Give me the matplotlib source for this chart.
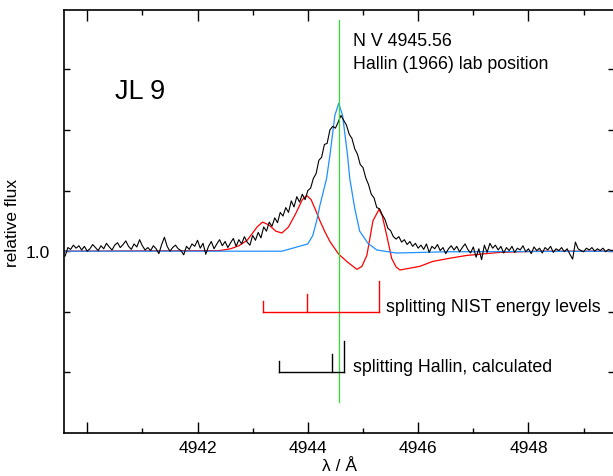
import matplotlib
matplotlib.use("Agg")
import matplotlib.pyplot as plt
import numpy as np

plt.rcParams['font.family'] = ['Liberation Sans', 'DejaVu Sans']

# observed spectrum, sampled every 0.05 A from 4939.60
wave_start = 4939.60
wave_step = 0.05
flux_obs = [
    0.992, 1.006, 1.003, 1.010, 1.005, 1.009, 1.002, 1.008, 1.000, 1.004,
    1.011, 1.006, 1.001, 1.009, 1.004, 1.013, 1.007, 1.002, 1.010, 1.014,
    1.006, 1.011, 1.017, 1.008, 1.003, 1.012, 1.007, 1.019, 1.009, 1.002,
    1.006, 1.001, 1.009, 1.004, 0.996, 1.011, 1.023, 1.008, 1.000, 1.006,
    1.010, 1.004, 1.001, 0.994, 1.008, 1.003, 1.012, 1.008, 1.018, 1.005,
    1.013, 0.995, 1.008, 1.016, 1.004, 1.012, 1.019, 1.009, 1.016, 1.006,
    1.014, 1.021, 1.008, 1.019, 1.012, 1.024, 1.015, 1.010, 1.026, 1.018,
    1.031, 1.022, 1.040, 1.033, 1.048, 1.041, 1.055, 1.047, 1.064, 1.058,
    1.072, 1.064, 1.083, 1.073, 1.090, 1.081, 1.094, 1.085, 1.100, 1.104,
    1.120, 1.128, 1.150, 1.155, 1.176, 1.178, 1.200, 1.206, 1.203, 1.213,
    1.224, 1.216, 1.208, 1.193, 1.186, 1.169, 1.160, 1.143, 1.138, 1.121,
    1.110, 1.094, 1.088, 1.072, 1.070, 1.060, 1.052, 1.038, 1.034, 1.024,
    1.020, 1.024, 1.015, 1.019, 1.011, 1.016, 1.008, 1.013, 1.005, 1.010,
    1.003, 1.012, 0.998, 1.008, 1.004, 1.011, 1.001, 1.006, 0.996, 1.004,
    1.009, 1.002, 1.008, 0.999, 1.006, 1.012, 1.003, 0.997, 1.007, 0.990,
    1.004, 0.986, 1.010, 0.998, 1.013, 1.005, 1.010, 1.002, 1.008, 0.997,
    1.006, 1.001, 1.008, 0.998, 1.005, 1.002, 1.009, 0.999, 1.004, 0.996,
    1.007, 1.001, 1.005, 0.997, 1.006, 1.002, 1.008, 0.998, 1.004, 1.001,
    1.006, 0.999, 1.004, 0.995, 0.987, 1.015, 1.004, 1.001, 0.999, 1.005,
    1.002, 1.006, 1.000, 1.004, 1.001, 1.005, 0.999, 1.003, 1.001, 1.002,
]
wave_obs = wave_start + wave_step * np.arange(len(flux_obs))

# model with Hallin splitting (blue)
wave_hallin = [4939.57, 4943.53, 4944.00, 4944.09, 4944.16, 4944.22, 4944.34,
               4944.40, 4944.49, 4944.56, 4944.63, 4944.72, 4944.76, 4944.85,
               4944.94, 4945.09, 4945.25, 4945.60, 4946.50, 4949.60]
flux_hallin = [1.000, 1.000, 1.012, 1.026, 1.050, 1.076, 1.120,
               1.158, 1.224, 1.244, 1.224, 1.158, 1.120, 1.071,
               1.033, 1.013, 1.002, 0.997, 0.999, 1.000]

# model with NIST splitting (red)
wave_nist = [4939.57, 4942.40, 4942.60, 4942.75, 4942.90, 4943.00, 4943.08,
             4943.18, 4943.30, 4943.42, 4943.53, 4943.65, 4943.78, 4943.90,
             4943.98, 4944.06, 4944.14, 4944.22, 4944.31, 4944.40, 4944.56,
             4944.72, 4944.89, 4944.98, 4945.07, 4945.18, 4945.29, 4945.35,
             4945.43, 4945.52, 4945.60, 4945.67, 4945.85, 4946.03, 4946.26,
             4946.55, 4946.88, 4947.48, 4948.20, 4949.60]
flux_nist = [1.000, 1.001, 1.004, 1.009, 1.018, 1.030, 1.040,
             1.048, 1.043, 1.033, 1.030, 1.040, 1.062, 1.085,
             1.092, 1.085, 1.068, 1.050, 1.032, 1.016, 0.995,
             0.982, 0.970, 0.975, 0.993, 1.050, 1.069, 1.058,
             1.026, 0.988, 0.974, 0.969, 0.972, 0.975, 0.983,
             0.988, 0.993, 0.998, 1.000, 1.000]

lab_position = 4944.56
lab_line_range = [0.751, 1.381]

# splitting components: wavelengths and relative tick heights
nist_comp = [4943.18, 4943.98, 4945.29]
nist_height = [0.018, 0.030, 0.050]
nist_base = 0.90
hallin_comp = [4943.47, 4944.43, 4944.65]
hallin_height = [0.018, 0.030, 0.052]
hallin_base = 0.80

fig = plt.figure(figsize=(6.13, 4.77), dpi=100)
ax = fig.add_axes([64/613, 43/477, 550/613, 423/477])

ax.plot(wave_nist, flux_nist, color='red', lw=0.9)
ax.plot(wave_hallin, flux_hallin, color='#1E90FF', lw=0.9)
ax.plot(wave_obs, flux_obs, color='black', lw=0.8)
ax.plot([lab_position, lab_position], lab_line_range, color='#33dd33', lw=0.9)

# splitting brackets
ax.plot([nist_comp[0], nist_comp[-1]], [nist_base, nist_base], color='red', lw=1.0)
for w, h in zip(nist_comp, nist_height):
    ax.plot([w, w], [nist_base, nist_base + h], color='red', lw=1.0)
ax.plot([hallin_comp[0], hallin_comp[-1]], [hallin_base, hallin_base], color='black', lw=1.0)
for w, h in zip(hallin_comp, hallin_height):
    ax.plot([w, w], [hallin_base, hallin_base + h], color='black', lw=1.0)

ax.text(4944.82, 1.348, 'N V 4945.56', fontsize=12.8, va='center')
ax.text(4944.82, 1.309, 'Hallin (1966) lab position', fontsize=12.8, va='center')
ax.text(4940.50, 1.264, 'JL 9', fontsize=19.5, va='center')
ax.text(4945.41, 0.909, 'splitting NIST energy levels', fontsize=12.8, va='center')
ax.text(4944.82, 0.810, 'splitting Hallin, calculated', fontsize=12.8, va='center')

ax.set_xlim(4939.58, 4949.55)
ax.set_ylim(0.70, 1.398)

ax.set_xticks(np.arange(4940, 4950, 2))
ax.set_xticklabels(['', '4942', '4944', '4946', '4948'])
ax.set_xticks(np.arange(4941, 4950, 2), minor=True)
ax.set_yticks(np.arange(0.8, 1.35, 0.1))
ax.set_yticklabels(['', '', '1.0', '', '', ''])

ax.tick_params(axis='x', which='major', direction='in', length=8, width=1,
               top=True, labelsize=12.5, pad=5)
ax.tick_params(axis='x', which='minor', direction='in', length=3.5, width=1, top=True)
ax.tick_params(axis='y', which='major', direction='in', length=4.5, width=1,
               right=True, labelsize=12.5, pad=10)
for s in ax.spines.values():
    s.set_linewidth(1.2)

ax.set_xlabel('λ / Å', fontsize=12.5, labelpad=2)
ax.set_ylabel('relative flux', fontsize=12.5, labelpad=4)

fig.savefig('out.png', dpi=100)
